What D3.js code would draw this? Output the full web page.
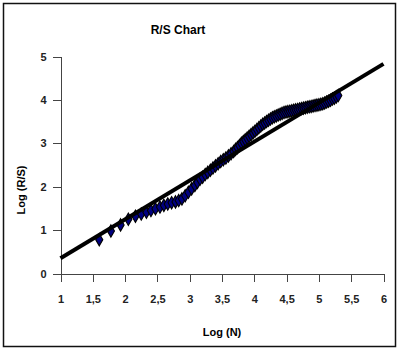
<!DOCTYPE html>
<html lang="en">
<head>
    <meta charset="UTF-8">
    <title>R/S Chart</title>
    <script src="https://d3js.org/d3.v7.min.js"></script>
    <style>
        body { margin: 0; background: #fff; }
        svg { display: block; font-family: Arial, "Liberation Sans", sans-serif; }
        .axis path, .axis line { fill: none; stroke: #444; shape-rendering: crispEdges; }
        .axis text { font-size: 11px; font-weight: bold; fill: #222; }
    </style>
</head>
<body>
    <svg width="400" height="352"></svg>

    <script>
        // Log (N) and Log (R/S) values
        var logN = [1.60, 1.78, 1.93, 2.05, 2.16, 2.25, 2.33, 2.40, 2.47, 2.54,
            2.60, 2.66, 2.72, 2.78, 2.83, 2.88, 2.93, 2.98, 3.03, 3.08,
            3.12, 3.16, 3.20, 3.24, 3.28, 3.32, 3.36, 3.40, 3.44, 3.48,
            3.52, 3.56, 3.60, 3.64, 3.68, 3.71, 3.74, 3.77, 3.80, 3.83,
            3.86, 3.89, 3.92, 3.95, 3.98, 4.01, 4.04, 4.07, 4.10, 4.13,
            4.16, 4.19, 4.22, 4.25, 4.28, 4.31, 4.34, 4.37, 4.40, 4.43,
            4.46, 4.49, 4.52, 4.55, 4.58, 4.61, 4.64, 4.67, 4.70, 4.73,
            4.76, 4.79, 4.82, 4.85, 4.88, 4.91, 4.94, 4.97, 5.00, 5.03,
            5.06, 5.09, 5.12, 5.15, 5.18, 5.21, 5.24, 5.27, 5.30];
        var logRS = [0.78, 0.98, 1.12, 1.25, 1.32, 1.37, 1.41, 1.45, 1.49, 1.53,
            1.57, 1.60, 1.63, 1.65, 1.68, 1.72, 1.79, 1.87, 1.95, 2.03,
            2.10, 2.17, 2.22, 2.28, 2.33, 2.38, 2.43, 2.48, 2.53, 2.58,
            2.62, 2.66, 2.71, 2.76, 2.81, 2.86, 2.90, 2.95, 3.00, 3.04,
            3.08, 3.12, 3.16, 3.20, 3.24, 3.28, 3.32, 3.36, 3.40, 3.44,
            3.47, 3.50, 3.53, 3.56, 3.59, 3.61, 3.63, 3.65, 3.67, 3.69,
            3.71, 3.72, 3.73, 3.74, 3.75, 3.76, 3.77, 3.78, 3.79, 3.80,
            3.81, 3.82, 3.83, 3.84, 3.85, 3.86, 3.87, 3.88, 3.89, 3.90,
            3.91, 3.93, 3.95, 3.97, 3.99, 4.02, 4.04, 4.07, 4.10];

        // fitted trend line end points
        var trendX = [1, 6];
        var trendY = [0.35, 4.83];

        var xTicks = [1, 1.5, 2, 2.5, 3, 3.5, 4, 4.5, 5, 5.5, 6];
        var yTicks = [0, 1, 2, 3, 4, 5];

        var svg = d3.select("svg");

        // outer frame
        svg.append("rect")
            .attr("x", 3.5).attr("y", 3.5)
            .attr("width", 392).attr("height", 343)
            .attr("fill", "none")
            .attr("stroke", "#111")
            .attr("stroke-width", 1.5);

        var x = d3.scaleLinear().domain([1, 6]).range([60.5, 383.5]);
        var y = d3.scaleLinear().domain([0, 5]).range([273.5, 56.5]);

        var fmt = function(d) { return String(d).replace(".", ","); };

        svg.append("g")
            .attr("class", "axis")
            .attr("transform", "translate(0," + y(0) + ")")
            .call(d3.axisBottom(x).tickValues(xTicks).tickFormat(fmt).tickSize(8).tickSizeOuter(0).tickPadding(14));

        svg.append("g")
            .attr("class", "axis")
            .attr("transform", "translate(" + x(1) + ",0)")
            .call(d3.axisLeft(y).tickValues(yTicks).tickFormat(fmt).tickSize(8).tickSizeOuter(0).tickPadding(6));

        // data points
        var pts = logN.map(function(d, i) { return [d, logRS[i]]; });
        svg.append("g")
            .selectAll("path")
            .data(pts)
            .enter().append("path")
            .attr("transform", function(d) { return "translate(" + x(d[0]) + "," + y(d[1]) + ")"; })
            .attr("d", d3.symbol().type(d3.symbolDiamond).size(44))
            .attr("fill", "#000080")
            .attr("stroke", "#000")
            .attr("stroke-width", 1.1);

        // trend line
        svg.append("path")
            .datum(trendX.map(function(d, i) { return [d, trendY[i]]; }))
            .attr("d", d3.line().x(function(d) { return x(d[0]); }).y(function(d) { return y(d[1]); }))
            .attr("fill", "none")
            .attr("stroke", "#000")
            .attr("stroke-width", 4);

        // titles
        svg.append("text")
            .attr("x", 178).attr("y", 34)
            .attr("text-anchor", "middle")
            .attr("font-size", 12).attr("font-weight", "bold")
            .text("R/S Chart");

        svg.append("text")
            .attr("x", 222).attr("y", 336)
            .attr("text-anchor", "middle")
            .attr("font-size", 11).attr("font-weight", "bold")
            .text("Log (N)");

        svg.append("text")
            .attr("transform", "translate(25,190) rotate(-90)")
            .attr("text-anchor", "middle")
            .attr("font-size", 11).attr("font-weight", "bold")
            .text("Log (R/S)");
    </script>
</body>
</html>
